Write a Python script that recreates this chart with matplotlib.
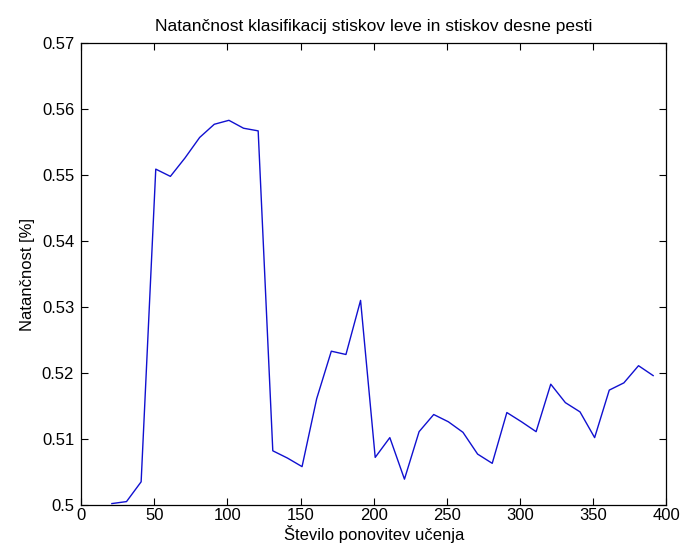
import matplotlib
matplotlib.use("Agg")
import matplotlib.pyplot as plt
import numpy as np

plt.rcParams['font.family'] = ['Liberation Sans', 'DejaVu Sans']

# number of training iterations and classification accuracy
iterations = list(range(21, 400, 10))
accuracy = [0.5002, 0.5005, 0.5035, 0.5509, 0.5498, 0.5526, 0.5557, 0.5577,
            0.5583, 0.5571, 0.5567, 0.5082, 0.5071, 0.5058, 0.5161, 0.5233,
            0.5228, 0.5310, 0.5072, 0.5102, 0.5039, 0.5111, 0.5137, 0.5126,
            0.5110, 0.5077, 0.5063, 0.5140, 0.5126, 0.5111, 0.5183, 0.5155,
            0.5141, 0.5102, 0.5174, 0.5185, 0.5211, 0.5196]

fig = plt.figure(figsize=(6.82, 5.53), dpi=100)
ax = fig.add_axes([0.119, 0.087, 0.858, 0.835])
ax.plot(iterations, accuracy, color='#1010d0', linewidth=1.0)

ax.set_xlim(0, 400)
ax.set_ylim(0.5, 0.57)
ax.set_xticks(np.arange(0, 401, 50))
ax.set_yticks(np.arange(0.5, 0.5701, 0.01))
ax.set_yticklabels(['0.5', '0.51', '0.52', '0.53', '0.54', '0.55', '0.56', '0.57'])
ax.tick_params(direction='in', top=True, right=True, labelsize=12, length=5)
ax.tick_params(axis='y', pad=5)
ax.tick_params(axis='x', pad=2.5)
for s in ax.spines.values():
    s.set_linewidth(0.9)

ax.set_title("Natančnost klasifikacij stiskov leve in stiskov desne pesti",
             fontsize=12.5, pad=9)
ax.set_xlabel("Število ponovitev učenja", fontsize=12, labelpad=1.5)
ax.set_ylabel("Natančnost [%]", fontsize=12, labelpad=5)

fig.savefig("out.png", dpi=100)
